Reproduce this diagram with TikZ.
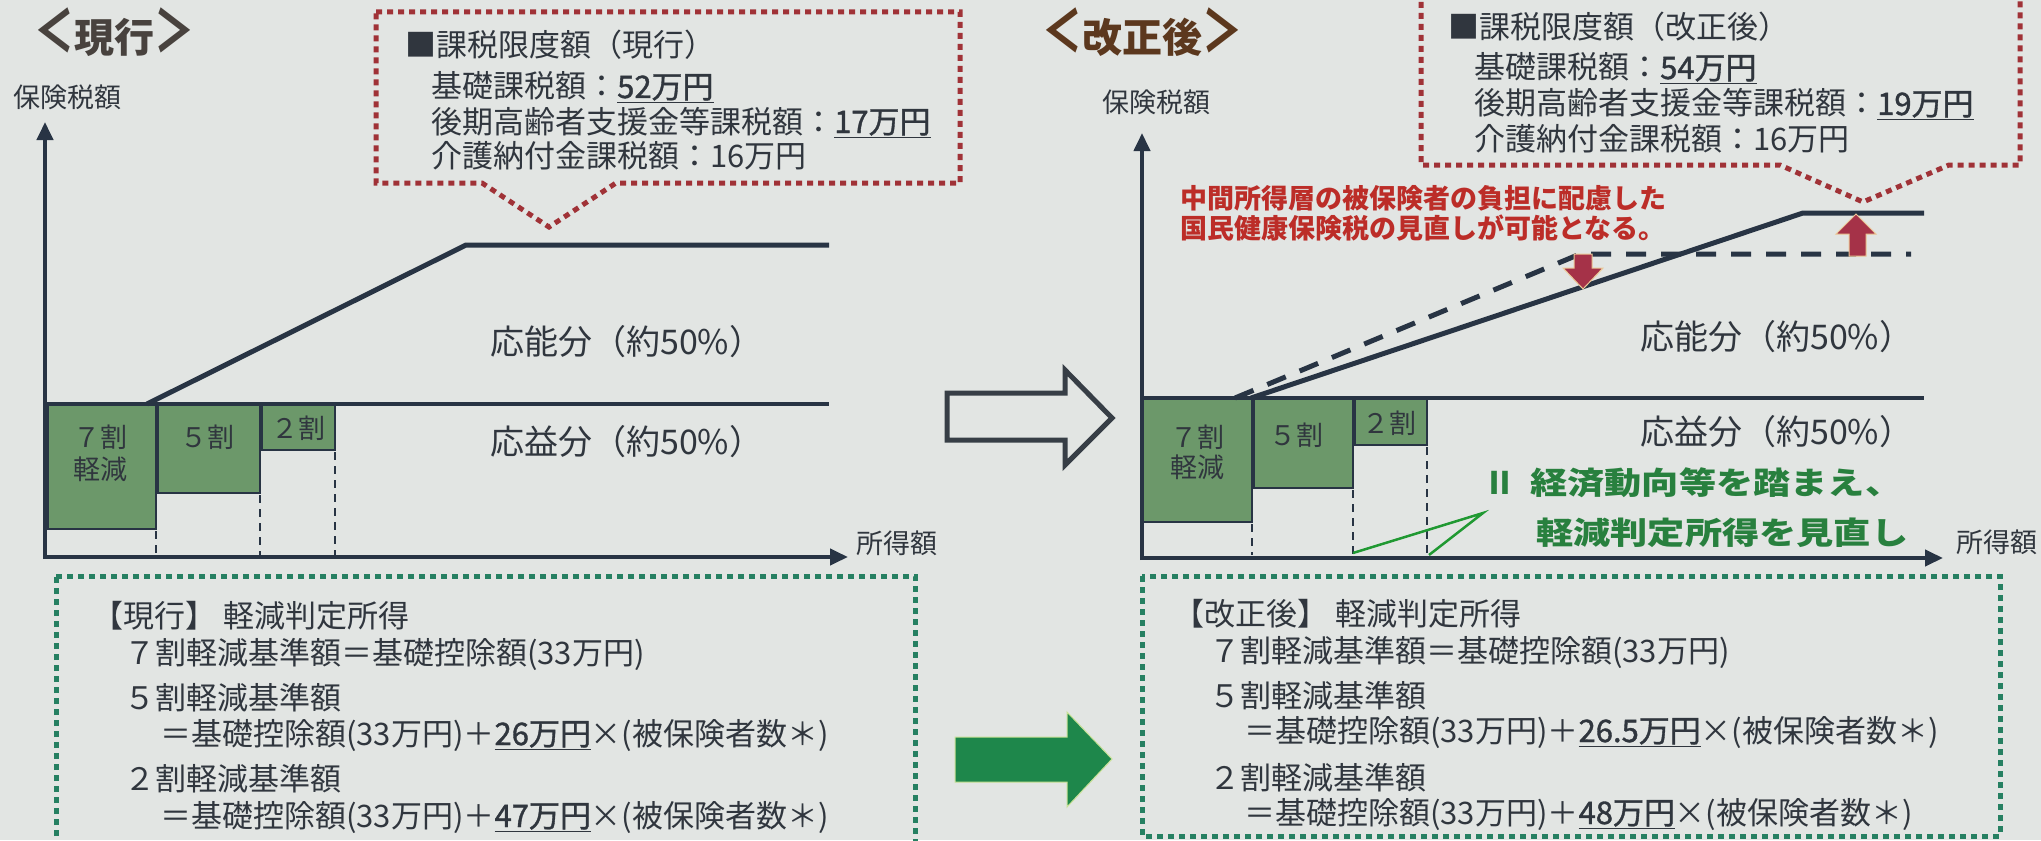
\documentclass[tikz,border=0pt]{standalone}
\usepackage{fontspec}
\usepackage{graphicx}
\setmainfont{Noto Sans CJK JP}
\usetikzlibrary{arrows.meta}
\definecolor{bg}{RGB}{226,229,227}
\definecolor{ink}{RGB}{40,52,68}
\definecolor{txt}{RGB}{48,54,62}
\definecolor{boxg}{RGB}{108,152,106}
\definecolor{dotg}{RGB}{38,128,98}
\definecolor{dotr}{RGB}{160,50,55}
\definecolor{redt}{RGB}{188,45,40}
\definecolor{greent}{RGB}{40,128,62}
\definecolor{arrg}{RGB}{30,135,75}
\definecolor{arrr}{RGB}{165,50,72}
\definecolor{titl}{RGB}{72,66,62}
\definecolor{titr}{RGB}{92,56,30}
\definecolor{hollow}{RGB}{55,62,70}
\newcommand\jfs[1]{\fontsize{#1}{#1}\selectfont}
\newcommand\uval[1]{\underline{{\addfontfeature{FakeBold=1.2}#1}}}
\newcommand\tbr[1]{\scalebox{1}[1.45]{#1}}
\begin{document}
\begin{tikzpicture}[x=1pt,y=-1pt,
  lbl/.style={inner sep=0pt, text=txt},
  bl/.style={inner sep=0pt, text=txt, anchor=base west},
  axisline/.style={draw=ink, line width=4pt, -{Triangle[length=18pt,width=16pt]}},
  thinline/.style={draw=ink, line width=3.5pt},
  thickline/.style={draw=ink, line width=5pt},
  dashline/.style={draw=ink, line width=5pt, dash pattern=on 20pt off 15pt},
  redbox/.style={draw=dotr, line width=5pt, dash pattern=on 6pt off 5pt},
  greenbox/.style={draw=dotg, line width=5pt, dash pattern=on 6pt off 5pt},
  gbox/.style={fill=boxg, draw=ink, line width=2.5pt},
  vdash/.style={draw=ink, line width=1.5pt, dash pattern=on 8pt off 6pt},
  blockred/.style={fill=arrr, draw={rgb,255:red,235;green,200;blue,150}, line width=1pt}
]
\path[use as bounding box] (0,0) rectangle (2041,840);
\fill[bg] (0,0) rectangle (2041,840);
\clip (0,0) rectangle (2041,840);

%================ LEFT PANEL =================
\node[lbl, text=titl, font=\jfs{40}\bfseries, anchor=west] (titleL) at (34,32) {\tbr{＜}現行\tbr{＞}};
\node[lbl, font=\jfs{27}] (ylabL) at (67,97) {保険税額};
\node[lbl, font=\jfs{27}] (xlabL) at (897,543) {所得額};

% callout (current)
\draw[redbox] (376,12) -- (960,12) -- (960,183) -- (616,183) -- (549,227) -- (482,183) -- (376,183) -- cycle;
\node[bl, font=\jfs{31}] (cL0) at (405,57) {■課税限度額（現行）};
\node[bl, font=\jfs{31}] (cL1) at (431,98) {基礎課税額：\uval{52万円}};
\node[bl, font=\jfs{31}] (cL2) at (431,133) {後期高齢者支援金等課税額：\uval{17万円}};
\node[bl, font=\jfs{31}] (cL3) at (431,167) {介護納付金課税額：16万円};

% boxes
\draw[gbox] (48,404) rectangle (156,529);
\draw[gbox] (158,404) rectangle (260,493);
\draw[gbox] (262,404) rectangle (335,450);
\node[lbl, font=\jfs{27}] (b7aL) at (100,437) {７割};
\node[lbl, font=\jfs{27}] (b7bL) at (100,469) {軽減};
\node[lbl, font=\jfs{27}] (b5L) at (207,437) {５割};
\node[lbl, font=\jfs{27}] (b2L) at (298,428) {２割};
\draw[vdash] (156,531) -- (156,555);
\draw[vdash] (260,495) -- (260,555);
\draw[vdash] (335,452) -- (335,555);

% lines
\draw[thinline] (45,404) -- (829,404);
\draw[thickline, line join=miter] (147,404) -- (466,245) -- (829,245);
\draw[axisline] (45,559) -- (45,122);
\draw[axisline] (43,557) -- (848,557);
\node[lbl, font=\jfs{34}, anchor=west] (onoL) at (490,342) {応能分（約50\%）};
\node[lbl, font=\jfs{34}, anchor=west] (oekiL) at (490,442) {応益分（約50\%）};

% bottom box
\draw[greenbox] (56,576) -- (915,576) -- (915,870) -- (56,870) -- cycle;
\node[bl, font=\jfs{31}] (tL0) at (92,627) {【現行】\ 軽減判定所得};
\node[bl, font=\jfs{31}] (tL1) at (124,664) {７割軽減基準額＝基礎控除額(33万円)};
\node[bl, font=\jfs{31}] (tL2) at (124,709) {５割軽減基準額};
\node[bl, font=\jfs{31}] (tL3) at (160,745) {＝基礎控除額(33万円)＋\uval{26万円}×(被保険者数＊)};
\node[bl, font=\jfs{31}] (tL4) at (124,790) {２割軽減基準額};
\node[bl, font=\jfs{31}] (tL5) at (160,827) {＝基礎控除額(33万円)＋\uval{47万円}×(被保険者数＊)};

%================ MIDDLE ARROWS =================
\draw[draw=hollow, fill=bg, line width=5pt, line join=miter] (947,393) -- (1065,393) -- (1065,370) -- (1112,418) -- (1065,465) -- (1065,440) -- (947,440) -- cycle;
\draw[fill=arrg, draw={rgb,255:red,200;green,225;blue,150}, line width=1pt] (955,737) -- (1067,737) -- (1067,712) -- (1112,759) -- (1067,807) -- (1067,782) -- (955,782) -- cycle;

%================ RIGHT PANEL =================
\node[lbl, text=titr, font=\jfs{40}\bfseries, anchor=west] (titleR) at (1042,32) {\tbr{＜}改正後\tbr{＞}};
\node[lbl, font=\jfs{27}] (ylabR) at (1156,102) {保険税額};
\node[lbl, font=\jfs{27}] (xlabR) at (1997,542) {所得額};

% callout (revised)
\draw[redbox] (1421,-20) -- (1421,165) -- (1780,165) -- (1863,202) -- (1949,165) -- (2020,165) -- (2020,-20);
\node[bl, font=\jfs{31}] (cR0) at (1448,39) {■課税限度額（改正後）};
\node[bl, font=\jfs{31}] (cR1) at (1474,79) {基礎課税額：\uval{54万円}};
\node[bl, font=\jfs{31}] (cR2) at (1474,115) {後期高齢者支援金等課税額：\uval{19万円}};
\node[bl, font=\jfs{31}] (cR3) at (1474,150) {介護納付金課税額：16万円};

% boxes
\draw[gbox] (1142,398) rectangle (1252,522);
\draw[gbox] (1254,398) rectangle (1353,488);
\draw[gbox] (1355,398) rectangle (1427,445);
\node[lbl, font=\jfs{27}] (b7aR) at (1197,437) {７割};
\node[lbl, font=\jfs{27}] (b7bR) at (1197,467) {軽減};
\node[lbl, font=\jfs{27}] (b5R) at (1296,435) {５割};
\node[lbl, font=\jfs{27}] (b2R) at (1389,423) {２割};
\draw[vdash] (1252,524) -- (1252,555);
\draw[vdash] (1353,490) -- (1353,555);
\draw[vdash] (1427,447) -- (1427,555);

% lines
\draw[thinline] (1142,398) -- (1924,398);
\draw[dashline] (1235,398) -- (1580,254) -- (1911,254);
\draw[thickline, line join=miter] (1251,398) -- (1803,213) -- (1924,213);
\draw[axisline] (1142,560) -- (1142,133);
\draw[axisline] (1140,558) -- (1943,558);
\node[lbl, font=\jfs{34}, anchor=west] (onoR) at (1640,337) {応能分（約50\%）};
\node[lbl, font=\jfs{34}, anchor=west] (oekiR) at (1640,432) {応益分（約50\%）};

% red arrows
\draw[blockred] (1574,254) -- (1592,254) -- (1592,268) -- (1603,268) -- (1583,289) -- (1563,268) -- (1574,268) -- cycle;
\draw[blockred] (1849,256) -- (1866,256) -- (1866,234) -- (1876,234) -- (1856,214) -- (1836,234) -- (1849,234) -- cycle;

% red text
\node[bl, text=redt, font=\jfs{27}\bfseries] (rt1) at (1180,208) {中間所得層の被保険者の負担に配慮した};
\node[bl, text=redt, font=\jfs{27}\bfseries] (rt2) at (1180,238) {国民健康保険税の見直しが可能となる。};

% green text and wedge
\draw[draw=greent!80!green, line width=2.5pt, line join=miter] (1353,553) -- (1483,513) -- (1429,555);
\node[bl, text=greent, font=\jfs{31}\bfseries] (gt0) at (1484,494) {Ⅱ};
\node[bl, text=greent, font=\jfs{31}\bfseries] (gt1) at (1530,494) {\scalebox{1.2}[1]{経済動向等を踏まえ、}};
\node[bl, text=greent, font=\jfs{31}\bfseries] (gt2) at (1536,544) {\scalebox{1.2}[1]{軽減判定所得を見直し}};

% bottom box
\draw[greenbox] (1142,576) rectangle (2000,836);
\node[bl, font=\jfs{31}] (tR0) at (1173,625) {【改正後】\ 軽減判定所得};
\node[bl, font=\jfs{31}] (tR1) at (1209,662) {７割軽減基準額＝基礎控除額(33万円)};
\node[bl, font=\jfs{31}] (tR2) at (1209,707) {５割軽減基準額};
\node[bl, font=\jfs{31}] (tR3) at (1244,742) {＝基礎控除額(33万円)＋\uval{26.5万円}×(被保険者数＊)};
\node[bl, font=\jfs{31}] (tR4) at (1209,789) {２割軽減基準額};
\node[bl, font=\jfs{31}] (tR5) at (1244,824) {＝基礎控除額(33万円)＋\uval{48万円}×(被保険者数＊)};
\end{tikzpicture}
\end{document}
